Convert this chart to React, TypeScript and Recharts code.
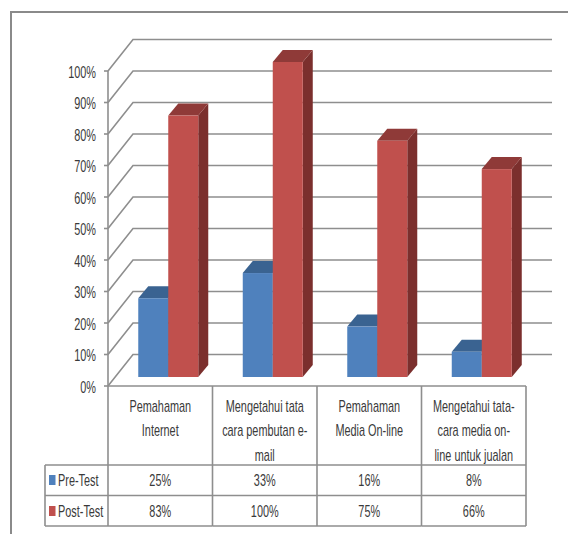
import React from "react";
import { Bar, BarChart, CartesianGrid, XAxis, YAxis } from "recharts";

const categories = [
  "Pemahaman Internet",
  "Mengetahui tata cara pembutan e-mail",
  "Pemahaman Media On-line",
  "Mengetahui tata-cara media on-line untuk jualan",
];
const categoryLines = [
  ["Pemahaman", "Internet"],
  ["Mengetahui tata", "cara pembutan e-", "mail"],
  ["Pemahaman", "Media On-line"],
  ["Mengetahui tata-", "cara media on-", "line untuk jualan"],
];
const preTest = [25, 33, 16, 8];
const postTest = [83, 100, 75, 66];
const yTicks = [0, 10, 20, 30, 40, 50, 60, 70, 80, 90, 100];

const data = categories.map((name, i) => ({
  name,
  pre: preTest[i],
  post: postTest[i],
}));

const FONT = '"Liberation Sans", sans-serif';
const TEXT = "#3a3a3a";
const LINE = "#8e8e8e";
const LW = 1.6;

// bars stand a little behind the front plane of the axes
const BAR_DX = 8;
const BAR_DY = -9;
const SIDE_DX = 10;
const SIDE_DY = -12;
const WALL_DX = 25;
const WALL_DY = -31.5;

const Bar3D = ({ x, y, width, height, front, top, side }: any) => {
  const l = x + BAR_DX;
  const r = l + width;
  const t = y + BAR_DY;
  const b = t + height;
  return (
    <g>
      <path
        d={`M${r},${t}L${r + SIDE_DX},${t + SIDE_DY}L${r + SIDE_DX},${b + SIDE_DY}L${r},${b}Z`}
        fill={side}
      />
      <path
        d={`M${l},${t}L${l + SIDE_DX},${t + SIDE_DY}L${r + SIDE_DX},${t + SIDE_DY}L${r},${t}Z`}
        fill={top}
      />
      <rect x={l} y={t} width={width} height={height} fill={front} />
    </g>
  );
};

const WallLine = ({ x1, x2, y1, index }: any) => (
  <path
    key={index}
    d={`M${x1},${y1}L${x1 + WALL_DX},${y1 + WALL_DY}L${x2 + WALL_DX + 1},${y1 + WALL_DY}`}
    fill="none"
    stroke={LINE}
    strokeWidth={LW}
  />
);

const COL = 104.5;
const TABLE_TOP = 386;
const ROW_A = 465;
const ROW_B = 495.5;
const ROW_C = 526;
const TABLE_LEFT = 45;
const AXIS_X = 108;

// the reference text is a tall squeezed face, so scale it horizontally
const cellText = (x: number, y: number, s: string, anchor = "middle") => (
  <text
    transform={`translate(${x},${y}) scale(0.64,1)`}
    textAnchor={anchor}
    dominantBaseline="central"
    fontFamily={FONT}
    fontSize={17}
    fill={TEXT}
  >
    {s}
  </text>
);

const ValueTick = ({ x, y, payload }: any) => cellText(x, y + 1, `${payload.value}%`, "end");

const TableTick = ({ x, payload, index }: any) => {
  const i = index ?? payload.index;
  const right = x + COL / 2;
  const lines = categoryLines[i];
  return (
    <g>
      <line x1={right} x2={right} y1={TABLE_TOP} y2={ROW_C} stroke={LINE} strokeWidth={LW} />
      <line x1={x - COL / 2} x2={right} y1={ROW_A} y2={ROW_A} stroke={LINE} strokeWidth={LW} />
      <line x1={x - COL / 2} x2={right} y1={ROW_B} y2={ROW_B} stroke={LINE} strokeWidth={LW} />
      <line x1={x - COL / 2} x2={right} y1={ROW_C} y2={ROW_C} stroke={LINE} strokeWidth={LW} />
      {lines.map((s: string, k: number) => (
        <React.Fragment key={k}>{cellText(x, 406 + k * 24.5, s)}</React.Fragment>
      ))}
      {cellText(x, 480, `${preTest[i]}%`)}
      {cellText(x, 511, `${postTest[i]}%`)}
      {i === 0 && (
        <g>
          <line x1={TABLE_LEFT} x2={AXIS_X} y1={ROW_A} y2={ROW_A} stroke={LINE} strokeWidth={LW} />
          <line x1={TABLE_LEFT} x2={AXIS_X} y1={ROW_B} y2={ROW_B} stroke={LINE} strokeWidth={LW} />
          <line x1={TABLE_LEFT} x2={AXIS_X} y1={ROW_C} y2={ROW_C} stroke={LINE} strokeWidth={LW} />
          <line x1={TABLE_LEFT} x2={TABLE_LEFT} y1={ROW_A} y2={ROW_C} stroke={LINE} strokeWidth={LW} />
          <line x1={AXIS_X} x2={AXIS_X} y1={TABLE_TOP} y2={ROW_C} stroke={LINE} strokeWidth={LW} />
          <rect x={49} y={475} width={6.5} height={10} fill="#4f81bd" />
          <rect x={49} y={506} width={6.5} height={10} fill="#c0504d" />
          {cellText(58, 480, "Pre-Test", "start")}
          {cellText(58, 511, "Post-Test", "start")}
        </g>
      )}
    </g>
  );
};

export default function App() {
  return (
    <div style={{ position: "absolute", left: 0, top: 0, width: 568, height: 534, background: "#fff" }}>
      <div
        style={{
          position: "absolute",
          left: 10,
          top: 11,
          right: 0,
          bottom: 0,
          borderLeft: "2px solid #8a8a8a",
          borderTop: "2px solid #8a8a8a",
        }}
      />
      <BarChart
        width={568}
        height={534}
        data={data}
        margin={{ top: 71, right: 42, bottom: 0, left: 60 }}
        barCategoryGap="21.3%"
        barGap={0}
        style={{ position: "absolute", left: 0, top: 0 }}
      >
        <CartesianGrid horizontal={(p: any) => <WallLine {...p} />} vertical={false} />
        <XAxis
          dataKey="name"
          height={148}
          axisLine={{ stroke: LINE, strokeWidth: LW }}
          tickLine={false}
          interval={0}
          tick={(p: any) => <TableTick {...p} />}
        />
        <YAxis
          width={48}
          domain={[0, 100]}
          ticks={yTicks}
          interval={0}
          tickSize={4}
          tickMargin={8}
          axisLine={{ stroke: LINE, strokeWidth: LW }}
          tickLine={{ stroke: LINE, strokeWidth: LW }}
          tick={(p: any) => <ValueTick {...p} />}
        />
        <Bar
          dataKey="pre"
          name="Pre-Test"
          isAnimationActive={false}
          shape={(p: any) => <Bar3D {...p} front="#4f81bd" top="#3a6391" side="#2f5379" />}
        />
        <Bar
          dataKey="post"
          name="Post-Test"
          isAnimationActive={false}
          shape={(p: any) => <Bar3D {...p} front="#c0504d" top="#8f3a38" side="#7b2f2d" />}
        />
      </BarChart>
    </div>
  );
}
